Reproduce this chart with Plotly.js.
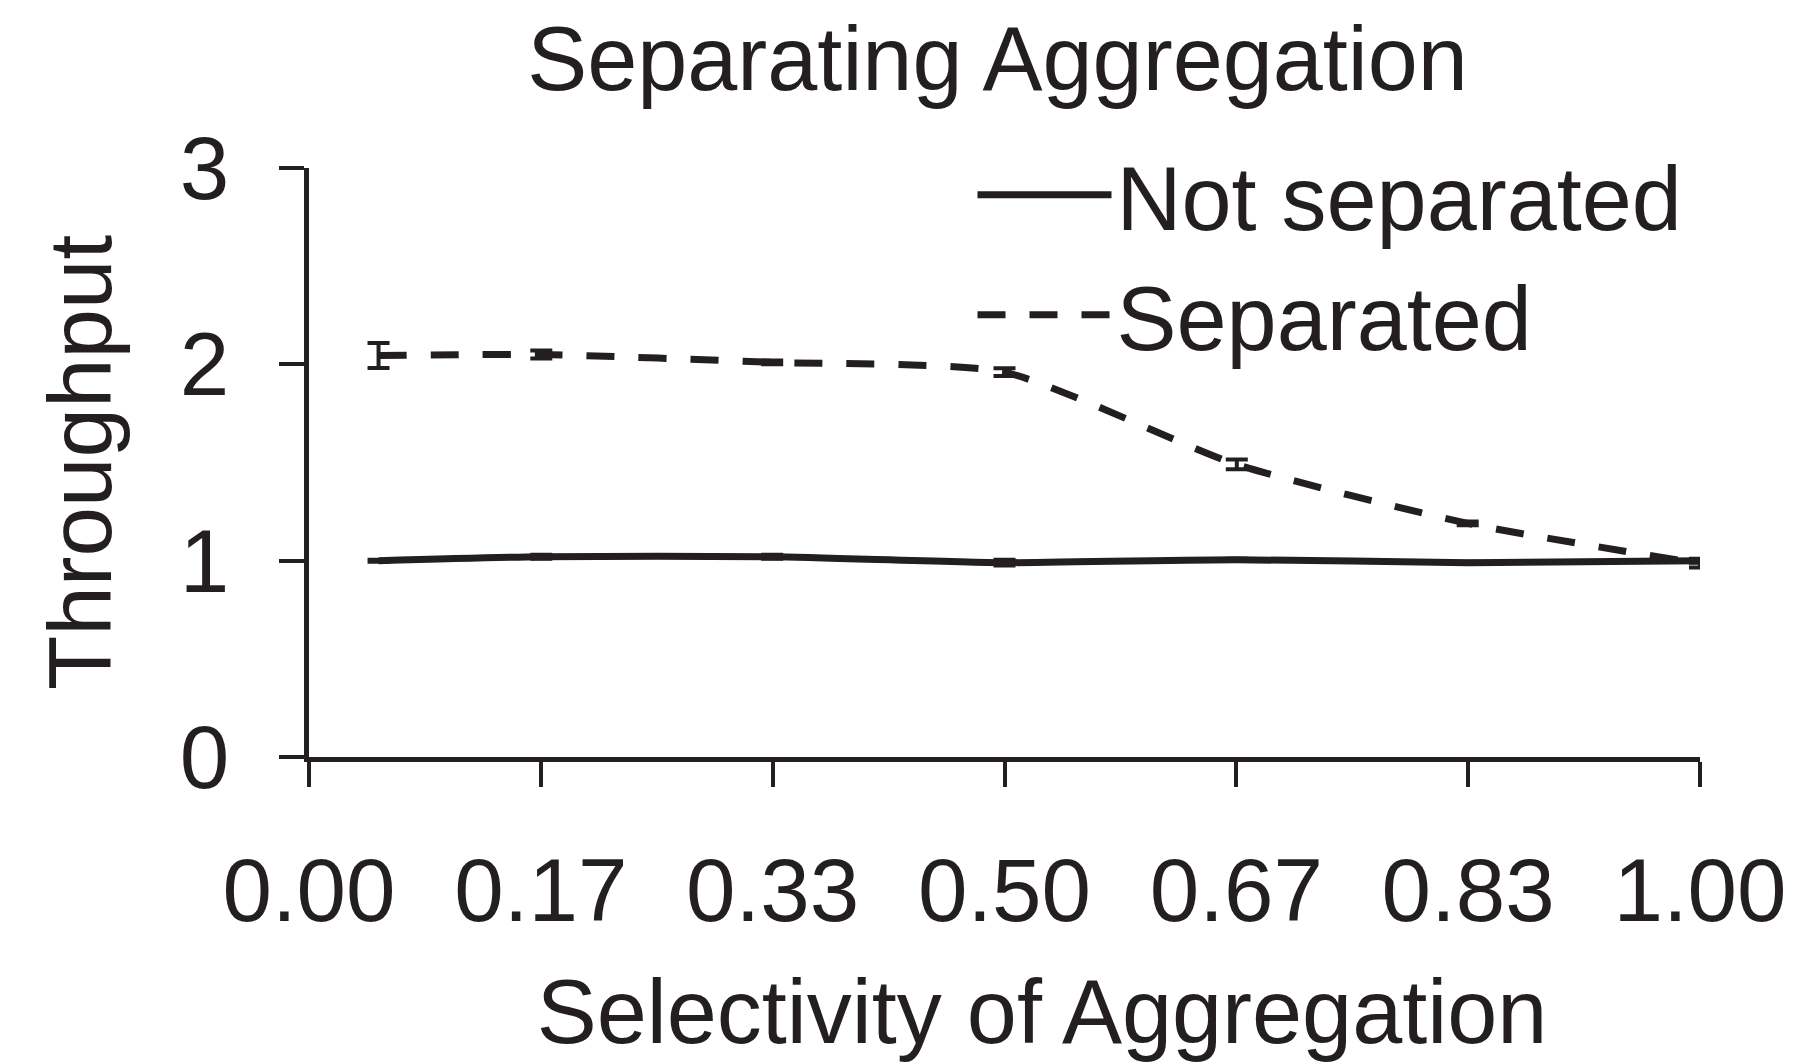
<!DOCTYPE html>
<html>
<head>
<meta charset="utf-8">
<script src="https://cdn.plot.ly/plotly-3.0.1.min.js"></script>
<style>html,body{margin:0;padding:0;background:#fff;}#chart{width:1814px;height:1062px;}</style>
</head>
<body>
<div id="chart"></div>
<script>
// Data
var selectivity = [0.05, 0.167, 0.333, 0.5, 0.667, 0.833, 1.0];
var notSeparated = [1.00, 1.02, 1.02, 0.99, 1.005, 0.99, 1.00];
var notSeparatedErr = [0.005, 0.01, 0.01, 0.015, 0.005, 0.005, 0.01];
var separated = [2.045, 2.05, 2.01, 1.96, 1.49, 1.19, 0.985];
var separatedErr = [0.064, 0.02, 0.01, 0.02, 0.025, 0.01, 0.02];
var xTickVals = [0, 1/6, 2/6, 3/6, 4/6, 5/6, 1];
var xTickText = ["0.00", "0.17", "0.33", "0.50", "0.67", "0.83", "1.00"];
var yTickVals = [0, 1, 2, 3];

var ink = "#231f20";
var fontFam = "'Liberation Sans', Arial, sans-serif";

var traces = [
  {
    x: selectivity, y: notSeparated, name: "Not separated",
    type: "scatter", mode: "lines",
    line: {color: ink, width: 7, shape: "spline", smoothing: 0.6},
    error_y: {type: "data", array: notSeparatedErr, visible: true, color: ink, thickness: 4, width: 11}
  },
  {
    x: selectivity, y: separated, name: "Separated",
    type: "scatter", mode: "lines",
    line: {color: ink, width: 7, dash: "28px,24px", shape: "spline", smoothing: 0.6},
    error_y: {type: "data", array: separatedErr, visible: true, color: ink, thickness: 4, width: 11}
  }
];

var layout = {
  width: 1814, height: 1062,
  paper_bgcolor: "#ffffff", plot_bgcolor: "#ffffff",
  margin: {l: 309, r: 114, t: 168, b: 305},
  font: {family: fontFam, size: 89, color: ink},
  title: {
    text: "Separating Aggregation",
    font: {family: fontFam, size: 90, color: ink},
    xref: "paper", x: 0.495, xanchor: "center",
    yref: "container", y: 0.945, yanchor: "middle"
  },
  xaxis: {
    range: [0, 1], tickvals: xTickVals, ticktext: xTickText,
    showline: true, linecolor: ink, linewidth: 5,
    ticks: "outside", ticklen: 25, tickwidth: 4, tickcolor: ink,
    ticklabelstandoff: 27,
    showgrid: false, zeroline: false,
    tickfont: {family: fontFam, size: 89, color: ink},
    title: {text: "&nbsp;&nbsp;&nbsp;Selectivity of Aggregation", font: {family: fontFam, size: 90, color: ink}, standoff: 53}
  },
  yaxis: {
    range: [0, 3], tickvals: yTickVals,
    showline: true, linecolor: ink, linewidth: 5,
    ticks: "outside", ticklen: 25, tickwidth: 4, tickcolor: ink,
    ticklabelstandoff: 32,
    showgrid: false, zeroline: false,
    tickfont: {family: fontFam, size: 89, color: ink},
    title: {text: "Throughput", font: {family: fontFam, size: 89, color: ink}, standoff: 40}
  },
  showlegend: true,
  legend: {
    x: 0.477, y: 1.065, xanchor: "left", yanchor: "top",
    bgcolor: "rgba(0,0,0,0)",
    font: {family: fontFam, size: 90, color: ink},
    itemwidth: 134, tracegroupgap: 0
  }
};

Plotly.newPlot("chart", traces, layout, {displayModeBar: false, staticPlot: true});
</script>
</body>
</html>
